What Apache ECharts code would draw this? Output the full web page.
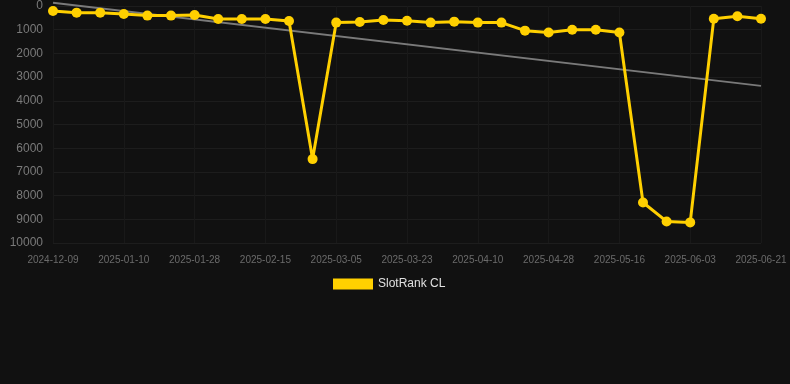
<!DOCTYPE html>
<html>
<head>
<meta charset="utf-8">
<script src="https://cdn.jsdelivr.net/npm/echarts@6/dist/echarts.min.js"></script>
<style>
  html, body { margin: 0; padding: 0; background: #111111; }
  #chart { width: 790px; height: 384px; }
</style>
</head>
<body>
<div id="chart"></div>
<script>
const dates = [
  '2024-12-09', '2024-12-29', '2025-01-04', '2025-01-10', '2025-01-16', '2025-01-22',
  '2025-01-28', '2025-02-03', '2025-02-09', '2025-02-15', '2025-02-21', '2025-02-27',
  '2025-03-05', '2025-03-11', '2025-03-17', '2025-03-23', '2025-03-29', '2025-04-04',
  '2025-04-10', '2025-04-16', '2025-04-22', '2025-04-28', '2025-05-04', '2025-05-10',
  '2025-05-16', '2025-05-22', '2025-05-28', '2025-06-03', '2025-06-09', '2025-06-15',
  '2025-06-21'
]

const rankCL = [
  210, 280, 280, 340, 405, 405, 380, 550, 550, 550, 630, 6460,
  700, 675, 590, 620, 700, 660, 700, 700, 1040, 1120, 1000, 1000,
  1120, 8290, 9090, 9130, 535, 435, 535
]

// trend line end points
const trendStart = -140
const trendEnd = 3370
const trend = dates.map((d, i) => i === 0 ? trendStart : (i === dates.length - 1 ? trendEnd : null))

const yTicks = { min: 0, max: 10000, interval: 1000 }

const chart = echarts.init(document.getElementById('chart'))

const option = {
  backgroundColor: '#111111',
  animation: false,
  grid: {
    left: 53,
    right: 29,
    top: 6,
    bottom: 141
  },
  legend: {
    top: 273,
    left: 328,
    itemWidth: 40,
    itemHeight: 11,
    textStyle: { color: '#e0e0e0', fontSize: 12, fontFamily: 'Arial, Liberation Sans, sans-serif' },
    data: [{ name: 'SlotRank CL', icon: 'rect' }]
  },
  xAxis: {
    type: 'category',
    data: dates,
    boundaryGap: false,
    axisLine: { show: false },
    axisTick: { show: false },
    axisLabel: {
      interval: 2,
      color: '#6b6b6b',
      fontSize: 10,
      margin: 12,
      fontFamily: 'Arial, Liberation Sans, sans-serif'
    },
    splitLine: {
      show: true,
      interval: 2,
      lineStyle: { color: '#191919', width: 1 }
    }
  },
  yAxis: {
    type: 'value',
    inverse: true,
    min: yTicks.min,
    max: yTicks.max,
    interval: yTicks.interval,
    axisLine: { show: false },
    axisTick: { show: false },
    axisLabel: {
      color: '#7a7a7a',
      fontSize: 12,
      margin: 10,
      fontFamily: 'Arial, Liberation Sans, sans-serif',
      formatter: (value) => String(value)
    },
    splitLine: {
      lineStyle: { color: '#1d1d1d', width: 1 }
    }
  },
  series: [
    {
      name: 'Trend',
      type: 'line',
      data: trend,
      connectNulls: true,
      clip: false,
      showSymbol: false,
      symbol: 'none',
      lineStyle: { color: '#7a7a7a', width: 2 },
      z: 1
    },
    {
      name: 'SlotRank CL',
      type: 'line',
      data: rankCL,
      symbol: 'circle',
      symbolSize: 10,
      itemStyle: { color: '#ffd000' },
      lineStyle: { color: '#ffd000', width: 3 },
      z: 2
    }
  ]
}

chart.setOption(option)
</script>
</body>
</html>
